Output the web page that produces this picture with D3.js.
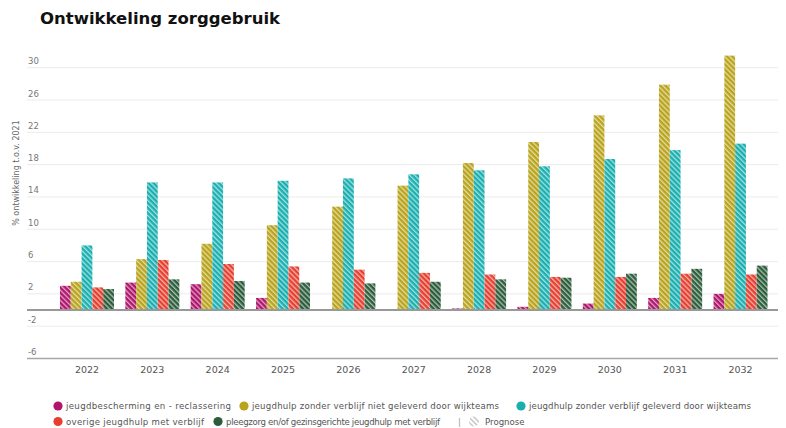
<!DOCTYPE html>
<html>
<head>
<meta charset="utf-8">
<script src="https://cdn.jsdelivr.net/npm/d3@7/dist/d3.min.js"></script>
<style>
  html, body { margin: 0; padding: 0; background: #fff; }
  svg { display: block; font-family: "DejaVu Sans", Verdana, sans-serif; }
</style>
</head>
<body>
<svg id="chart" width="786" height="428"></svg>
<script>
// Jaren en reeksen (% ontwikkeling t.o.v. 2021)
const years = ["2022", "2023", "2024", "2025", "2026", "2027", "2028", "2029", "2030", "2031", "2032"];
const jeugdbescherming = [3.0, 3.4, 3.2, 1.5, 0.0, 0.0, 0.2, 0.4, 0.8, 1.5, 2.0];
const zonderVerblijfNietWijk = [3.5, 6.3, 8.2, 10.5, 12.8, 15.4, 18.2, 20.8, 24.1, 27.9, 31.5];
const zonderVerblijfWijk = [8.0, 15.8, 15.8, 16.0, 16.3, 16.8, 17.3, 17.8, 18.7, 19.8, 20.6];
const overigeMetVerblijf = [2.8, 6.2, 5.7, 5.4, 5.0, 4.6, 4.4, 4.1, 4.1, 4.5, 4.4];
const pleegzorg = [2.6, 3.8, 3.6, 3.4, 3.3, 3.5, 3.8, 4.0, 4.5, 5.1, 5.5];

const seriesNames = [
  "jeugdbescherming en - reclassering",
  "jeugdhulp zonder verblijf niet geleverd door wijkteams",
  "jeugdhulp zonder verblijf geleverd door wijkteams",
  "overige jeugdhulp met verblijf",
  "pleegzorg en/of gezinsgerichte jeugdhulp met verblijf"
];
const seriesValues = [jeugdbescherming, zonderVerblijfNietWijk, zonderVerblijfWijk, overigeMetVerblijf, pleegzorg];
const seriesColors = ["#b0156c", "#b9a31a", "#19afb0", "#e63f2f", "#2c5d3b"];
const yTicks = [30, 26, 22, 18, 14, 10, 6, 2, -2, -6];

const svg = d3.select("#chart");
const plotLeft = 27, plotRight = 778;

// Scales
const y = d3.scaleLinear().domain([-6, 30]).range([358.5, 67.7]);
const x0 = d3.scaleBand().domain(years).range([54.3, 773.2]).paddingInner(0).paddingOuter(0);
const groupW = 54;
const x1 = d3.scaleBand().domain(d3.range(seriesNames.length))
  .range([(x0.bandwidth() - groupW) / 2, (x0.bandwidth() + groupW) / 2]).padding(0);

// Hatch patterns: diagonal light stripes over each series colour
const defs = svg.append("defs");
seriesColors.forEach((c, i) => {
  const p = defs.append("pattern")
    .attr("id", "hatch" + i)
    .attr("patternUnits", "userSpaceOnUse")
    .attr("width", 3.6).attr("height", 3.6)
    .attr("patternTransform", "rotate(-45)");
  p.append("rect").attr("width", 3.6).attr("height", 3.6).attr("fill", c);
  p.append("rect").attr("x", 0).attr("width", 1.3).attr("height", 3.6)
    .attr("fill", "#fff").attr("fill-opacity", 0.6);
});
const gp = defs.append("pattern")
  .attr("id", "hatchGrey")
  .attr("patternUnits", "userSpaceOnUse")
  .attr("width", 3.6).attr("height", 3.6)
  .attr("patternTransform", "rotate(-45)");
gp.append("rect").attr("width", 1.2).attr("height", 3.6).attr("fill", "#b5b5b5");

// Title
svg.append("text")
  .attr("x", 40).attr("y", 24)
  .attr("font-size", 16.5).attr("font-weight", "bold").attr("fill", "#111")
  .text("Ontwikkeling zorggebruik");

// Gridlines and y labels
const grid = svg.append("g");
grid.selectAll("line")
  .data(yTicks.filter(t => t !== -6))
  .join("line")
  .attr("x1", plotLeft).attr("x2", plotRight)
  .attr("y1", d => y(d)).attr("y2", d => y(d))
  .attr("stroke", "#ebebeb").attr("stroke-width", 1);

grid.selectAll("text")
  .data(yTicks)
  .join("text")
  .attr("x", plotLeft + 1).attr("y", d => y(d) - 3.5)
  .attr("font-size", 8.5).attr("fill", "#777")
  .text(d => d);

// Bars
const groups = svg.append("g").selectAll("g")
  .data(years)
  .join("g")
  .attr("transform", d => `translate(${x0(d)},0)`);

groups.selectAll("rect")
  .data((d, i) => seriesValues.map((vals, s) => ({ s, v: vals[i] })))
  .join("rect")
  .attr("x", d => x1(d.s))
  .attr("width", x1.bandwidth())
  .attr("y", d => y(Math.max(0, d.v)))
  .attr("height", d => Math.abs(y(d.v) - y(0)))
  .attr("fill", d => `url(#hatch${d.s})`);

// Zero line and bottom axis line
svg.append("line")
  .attr("x1", plotLeft).attr("x2", plotRight)
  .attr("y1", y(0)).attr("y2", y(0))
  .attr("stroke", "#999").attr("stroke-width", 2);
svg.append("line")
  .attr("x1", plotLeft).attr("x2", plotRight)
  .attr("y1", y(-6)).attr("y2", y(-6))
  .attr("stroke", "#a8a8a8").attr("stroke-width", 1.5);

// X axis labels
const xAxis = svg.append("g")
  .attr("transform", `translate(0,${y(-6)})`)
  .call(d3.axisBottom(x0).tickSize(0).tickPadding(8));
xAxis.select(".domain").remove();
xAxis.selectAll("text")
  .attr("font-size", 9.5).attr("fill", "#555")
  .attr("font-family", "DejaVu Sans, Verdana, sans-serif");

// Y axis title
svg.append("text")
  .attr("transform", "translate(19,173) rotate(-90)")
  .attr("text-anchor", "middle")
  .attr("font-size", 8).attr("fill", "#666")
  .text("% ontwikkeling t.o.v. 2021");

// Legend
const legendItems = [
  { s: 0, cx: 58, row: 0, len: 165 },
  { s: 1, cx: 244, row: 0, len: 247 },
  { s: 2, cx: 521, row: 0, len: 222 },
  { s: 3, cx: 58, row: 1, len: 138 },
  { s: 4, cx: 218, row: 1, len: 214 }
];
const rowY = [406, 421.5];
const legend = svg.append("g");
legendItems.forEach(it => {
  legend.append("circle")
    .attr("cx", it.cx).attr("cy", rowY[it.row]).attr("r", 4.6)
    .attr("fill", seriesColors[it.s]);
  legend.append("text")
    .attr("x", it.cx + 8).attr("y", rowY[it.row] + 3)
    .attr("font-size", 8.6).attr("fill", "#555")
    .attr("textLength", it.len).attr("lengthAdjust", "spacing")
    .text(seriesNames[it.s]);
});
legend.append("text")
  .attr("x", 458).attr("y", rowY[1] + 3)
  .attr("font-size", 8.6).attr("fill", "#999")
  .text("|");
legend.append("circle")
  .attr("cx", 474).attr("cy", rowY[1]).attr("r", 5)
  .attr("fill", "url(#hatchGrey)");
legend.append("text")
  .attr("x", 485).attr("y", rowY[1] + 3)
  .attr("font-size", 8.6).attr("fill", "#555")
  .text("Prognose");
</script>
</body>
</html>
